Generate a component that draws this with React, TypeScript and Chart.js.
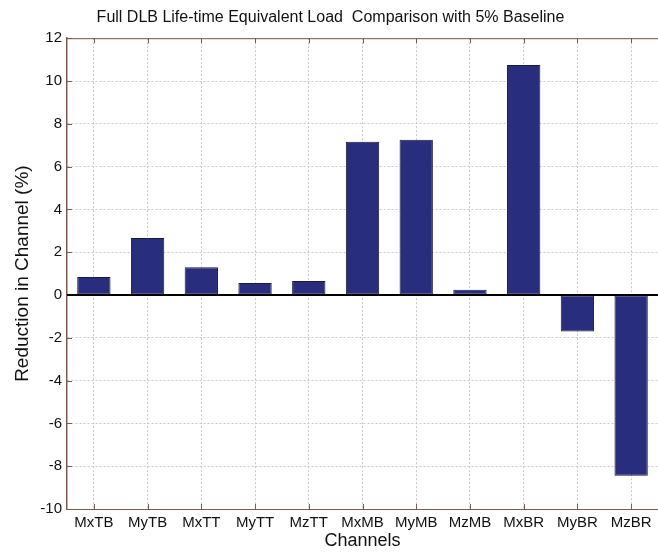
import React, { useEffect, useRef } from "react";
import { Chart, registerables } from "chart.js";

Chart.register(...registerables);

const channels = ["MxTB", "MyTB", "MxTT", "MyTT", "MzTT", "MxMB", "MyMB", "MzMB", "MxBR", "MyBR", "MzBR"];
const reductions = [0.84, 2.66, 1.3, 0.56, 0.65, 7.16, 7.25, 0.24, 10.75, -1.7, -8.45];
const yTicks = [-10, -8, -6, -4, -2, 0, 2, 4, 6, 8, 10, 12];

const titleText = "Full DLB Life-time Equivalent Load  Comparison with 5% Baseline";
const yTitle = "Reduction in Channel (%)";
const xTitle = "Channels";

const FONT = "'Liberation Sans', Arial, Helvetica, sans-serif";
const AXIS_COLOR = "#7a5a4a";

const framePlugin = {
  id: "frame",
  afterDatasetsDraw(chart: any) {
    const { ctx, chartArea, scales } = chart;
    const y = scales.y;
    const x = scales.x;
    ctx.save();
    ctx.strokeStyle = AXIS_COLOR;
    ctx.lineWidth = 1;
    ctx.beginPath();
    ctx.moveTo(chartArea.left, chartArea.top + 0.5);
    ctx.lineTo(chartArea.right, chartArea.top + 0.5);
    ctx.stroke();
    ctx.beginPath();
    for (let i = 0; i < channels.length; i++) {
      const px = Math.round(x.getPixelForValue(i)) + 0.5;
      ctx.moveTo(px, chartArea.top);
      ctx.lineTo(px, chartArea.top + 5);
      ctx.moveTo(px, chartArea.bottom);
      ctx.lineTo(px, chartArea.bottom - 5);
    }
    for (const v of yTicks) {
      const py = Math.round(y.getPixelForValue(v)) + 0.5;
      ctx.moveTo(chartArea.left, py);
      ctx.lineTo(chartArea.left + 5, py);
    }
    ctx.stroke();
    const zy = y.getPixelForValue(0);
    ctx.strokeStyle = "#000";
    ctx.lineWidth = 2.2;
    ctx.beginPath();
    ctx.moveTo(chartArea.left, zy);
    ctx.lineTo(chartArea.right, zy);
    ctx.stroke();
    ctx.restore();
  },
};

export default function App() {
  const ref = useRef<HTMLCanvasElement>(null);
  useEffect(() => {
    if (!ref.current) return;
    const chart = new Chart(ref.current, {
      type: "bar",
      data: {
        labels: channels,
        datasets: [
          {
            data: reductions,
            backgroundColor: "#282d7d",
            borderColor: "#1a1a3a",
            borderWidth: 1,
            borderSkipped: false,
            barPercentage: 0.62,
            categoryPercentage: 1,
          },
        ],
      },
      options: {
        responsive: false,
        animation: false,
        events: [],
        layout: { padding: { left: 0, right: -3, top: 0, bottom: 0 } },
        plugins: {
          legend: { display: false },
          tooltip: { enabled: false },
          title: {
            display: true,
            text: titleText,
            color: "#111",
            font: { family: FONT, size: 16, weight: "normal" },
            padding: { top: 8, bottom: 11 },
          },
        },
        scales: {
          x: {
            offset: true,
            grid: {
              offset: false,
              color: "#c8c8c8",
              lineWidth: 1,
              drawTicks: false,
            },
            border: { display: true, color: AXIS_COLOR, dash: [2, 2] },
            ticks: {
              color: "#111",
              font: { family: FONT, size: 15 },
              padding: 5,
              maxRotation: 0,
              autoSkip: false,
            },
            title: {
              display: true,
              text: xTitle,
              color: "#111",
              font: { family: FONT, size: 18 },
              padding: { top: 0, bottom: 0 },
            },
            afterFit(scale: any) {
              scale.height = 43;
            },
          },
          y: {
            min: -10,
            max: 12,
            afterBuildTicks(scale: any) {
              scale.ticks = yTicks.map((v) => ({ value: v }));
            },
            grid: {
              color: "#c8c8c8",
              lineWidth: 1,
              drawTicks: false,
            },
            border: { display: true, color: AXIS_COLOR, width: 1.5, dash: [2, 2] },
            ticks: {
              color: "#111",
              font: { family: FONT, size: 15 },
              padding: 5,
            },
            title: {
              display: true,
              text: yTitle,
              color: "#111",
              font: { family: FONT, size: 19 },
              padding: { top: 11, bottom: 0 },
            },
            afterFit(scale: any) {
              scale.width = 67;
            },
          },
        },
      },
      plugins: [framePlugin],
    });
    return () => chart.destroy();
  }, []);
  return (
    <div style={{ position: "fixed", left: 0, top: 0, width: 658, height: 552, background: "#fff" }}>
      <canvas ref={ref} width={658} height={552} style={{ width: 658, height: 552, display: "block" }} />
    </div>
  );
}
